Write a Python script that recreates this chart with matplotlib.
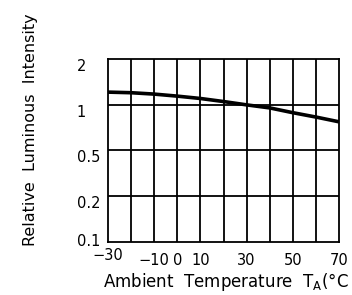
import numpy as np
import matplotlib
matplotlib.use('Agg')
import matplotlib.pyplot as plt

# temperature (deg C) vs relative luminous intensity
temps = [-30, -20, -10, 0, 10, 20, 30, 40, 50, 60, 70]
intensity = [1.214, 1.203, 1.178, 1.142, 1.102, 1.052, 1.0, 0.955, 0.888, 0.831, 0.773]

y_ticks = [0.1, 0.2, 0.5, 1, 2]
y_tick_labels = ['0.1', '0.2', '0.5', '1', '2']
x_ticks = [-30, -10, 0, 10, 30, 50, 70]
x_tick_labels = ['\u221230', '\u221210', '0', '10', '30', '50', '70']
x_grid = [-20, -10, 0, 10, 20, 30, 40, 50, 60]

# y axis is evenly spaced at 0.1, 0.2, 0.5, 1, 2
logt = np.log10(y_ticks)
pos = np.arange(len(y_ticks), dtype=float)

def fwd(v):
    return np.interp(np.log10(np.clip(v, 1e-6, None)), logt, pos)

def inv(p):
    return 10 ** np.interp(p, pos, logt)

fig = plt.figure(figsize=(3.52, 2.95), dpi=100)
ax = fig.add_axes([0.307, 0.181, 0.656, 0.618])
ax.set_yscale('function', functions=(fwd, inv))
ax.set_xlim(-30, 70)
ax.set_ylim(0.1, 2)

for x in x_grid:
    ax.axvline(x, color='black', lw=1.3)
for y in y_ticks[1:-1]:
    ax.axhline(y, color='black', lw=1.3)

ax.plot(temps, intensity, color='black', lw=2.6, solid_capstyle='butt')

for s in ax.spines.values():
    s.set_linewidth(1.3)
ax.set_xticks([])
ax.set_yticks([])
ax.minorticks_off()

fs = 10.5
for y, lab in zip(y_ticks, y_tick_labels):
    if lab == '0.1':
        ax.text(-0.035, y, lab, transform=ax.get_yaxis_transform(), ha='right',
                va='center', fontsize=fs)
    else:
        ax.text(-0.135, y, lab, transform=ax.get_yaxis_transform(), ha='left',
                va='top', fontsize=fs)
for x, lab in zip(x_ticks, x_tick_labels):
    dy = -0.035 if x == -30 else -0.06
    ax.text(x, dy, lab, transform=ax.get_xaxis_transform(), ha='center',
            va='top', fontsize=fs)

fig.text(0.292, 0.045, 'Ambient  Temperature  T$_{\\mathregular{A}}$(\u00b0C',
         fontsize=12, ha='left', va='center')
fig.text(0.088, 0.56, 'Relative  Luminous  Intensity', rotation=90,
         fontsize=11.5, ha='center', va='center')

fig.savefig('out.png', dpi=100)
